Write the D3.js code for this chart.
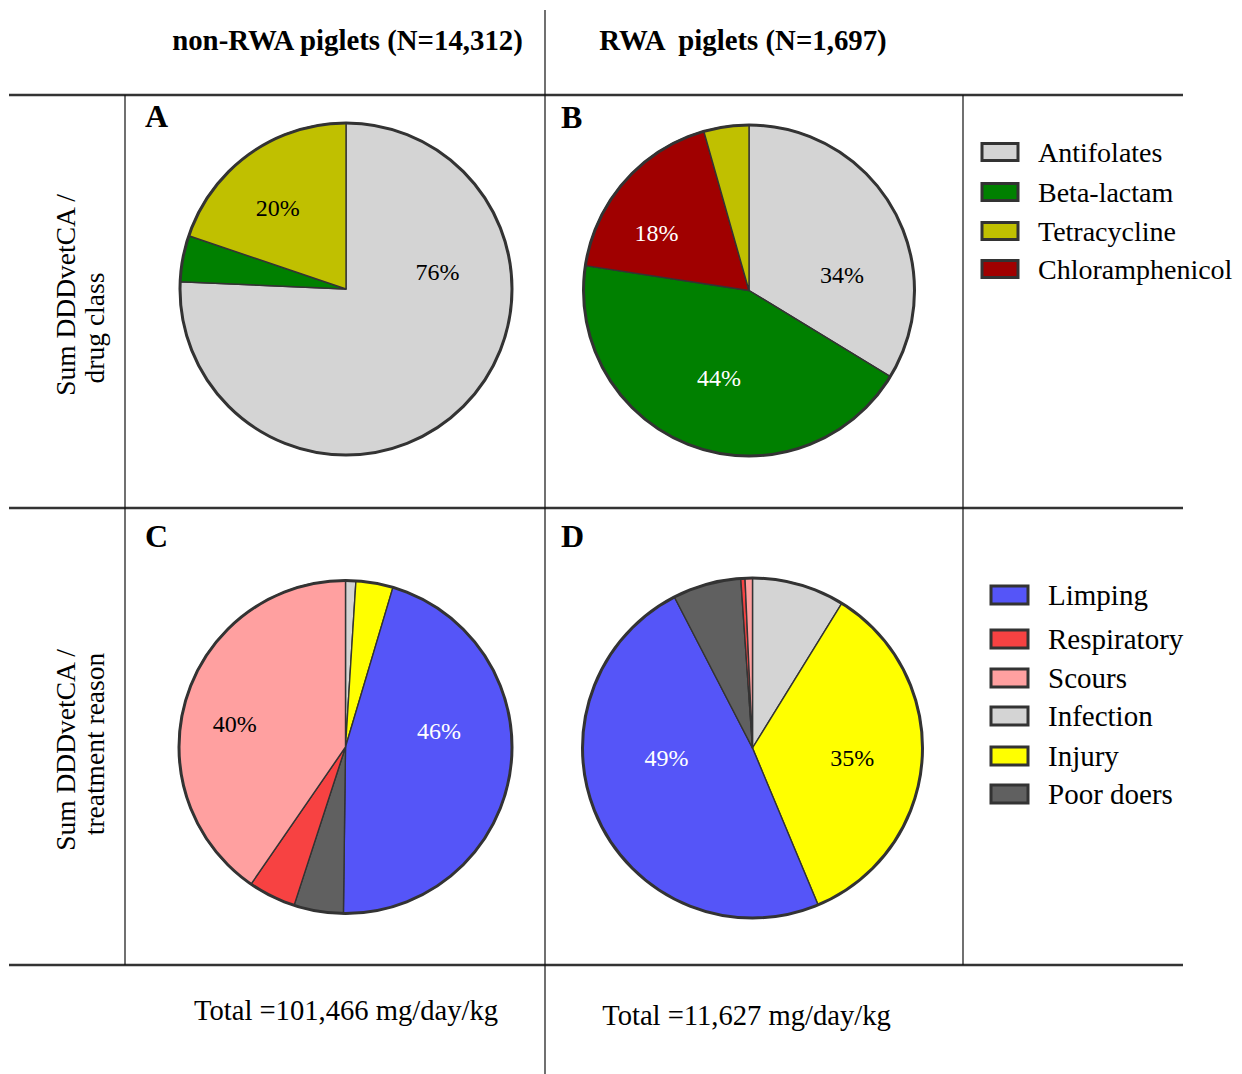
<!DOCTYPE html>
<html>
<head>
<meta charset="utf-8">
<script src="https://cdn.jsdelivr.net/npm/d3@7/dist/d3.min.js"></script>
<style>
  html, body { margin: 0; padding: 0; background: #fff; }
  svg { display: block; font-family: "Liberation Serif", "Times New Roman", serif; }
  text { white-space: pre; }
</style>
</head>
<body>
<svg id="chart" width="1242" height="1074"></svg>
<script>
// ---- data (percent of summed DDDvetCA) ----
const drugClasses   = ["Antifolates", "Beta-lactam", "Chloramphenicol", "Tetracycline"];
const drugNonRWA    = [75.7, 4.5, 0, 19.8];
const drugRWA       = [33.7, 43.7, 18.2, 4.4];

const reasons       = ["Infection", "Injury", "Limping", "Poor doers", "Respiratory", "Scours"];
const reasonNonRWA  = [1.0, 3.6, 45.6, 4.8, 4.6, 40.4];
const reasonRWA     = [8.8, 34.9, 48.7, 6.5, 0.4, 0.7];

const drugLegend    = ["Antifolates", "Beta-lactam", "Tetracycline", "Chloramphenicol"];
const reasonLegend  = ["Limping", "Respiratory", "Scours", "Infection", "Injury", "Poor doers"];

const columnTitles  = ["non-RWA piglets (N=14,312)", "RWA  piglets (N=1,697)"];
const columnTotals  = ["Total =101,466 mg/day/kg", "Total =11,627 mg/day/kg"];
const rowTitles     = [["Sum DDDvetCA /", "drug class"], ["Sum DDDvetCA /", "treatment reason"]];
const panelLetters  = ["A", "B", "C", "D"];

// ---- styling ----
const fills = {
  "Antifolates": "#d4d4d4", "Beta-lactam": "#008000", "Tetracycline": "#c0c000", "Chloramphenicol": "#a00000",
  "Limping": "#5555f8", "Respiratory": "#f74242", "Scours": "#ffa0a0", "Infection": "#d4d4d4",
  "Injury": "#ffff00", "Poor doers": "#606060"
};
const whiteText = new Set(["Beta-lactam", "Chloramphenicol", "Limping"]);
const edge = "#333";

const svg = d3.select("#chart");
svg.append("rect").attr("width", 1242).attr("height", 1074).attr("fill", "#fff");

// ---- table frame ----
const frame = svg.append("g");
[95, 508, 965].forEach(y => frame.append("line")
  .attr("x1", 9).attr("x2", 1183).attr("y1", y).attr("y2", y)
  .attr("stroke", edge).attr("stroke-width", 2.6));
frame.append("line").attr("x1", 545).attr("x2", 545).attr("y1", 10).attr("y2", 1074)
  .attr("stroke", "#111").attr("stroke-width", 1.2);
[125, 963].forEach(x => frame.append("line")
  .attr("x1", x).attr("x2", x).attr("y1", 95).attr("y2", 965)
  .attr("stroke", "#111").attr("stroke-width", 1.2));

// column headers and totals
const colCenters = [347.5, 743];
columnTitles.forEach((t, i) => svg.append("text")
  .attr("x", colCenters[i]).attr("y", 50).attr("text-anchor", "middle")
  .attr("font-size", 28.8).attr("font-weight", "bold").attr("fill", "#000").text(t));
const totalPos = [[346, 1020], [746.5, 1025]];
columnTotals.forEach((t, i) => svg.append("text")
  .attr("x", totalPos[i][0]).attr("y", totalPos[i][1]).attr("text-anchor", "middle")
  .attr("font-size", 28.6).attr("fill", "#000").text(t));

// row titles (rotated, two lines)
const rowTitleLayout = [
  { lines: [[75, 295], [104, 328]] },
  { lines: [[75, 750], [104, 744]] }
];
rowTitles.forEach((lines, r) => lines.forEach((t, k) => {
  const [x, y] = rowTitleLayout[r].lines[k];
  svg.append("text")
    .attr("transform", `translate(${x},${y}) rotate(-90)`)
    .attr("text-anchor", "middle").attr("font-size", 27.5).attr("fill", "#000").text(t);
}));

// ---- pies ----
const panels = [
  { cats: drugClasses, vals: drugNonRWA,  cx: 346,   cy: 289,   r: 166,
    labels: { "Antifolates": [79.5, 0.56], "Tetracycline": [320, 0.64] }, letter: [145, 127] },
  { cats: drugClasses, vals: drugRWA,     cx: 749,   cy: 290.5, r: 165.5,
    labels: { "Antifolates": [80.2, 0.57], "Beta-lactam": [199.1, 0.555], "Chloramphenicol": [302.1, 0.66] }, letter: [561, 128] },
  { cats: reasons,     vals: reasonNonRWA, cx: 345.5, cy: 747,   r: 166.5,
    labels: { "Scours": [281.9, 0.68], "Limping": [80.3, 0.57] }, letter: [145, 547] },
  { cats: reasons,     vals: reasonRWA,    cx: 752.5, cy: 748,   r: 170,
    labels: { "Limping": [263.4, 0.51], "Injury": [95.7, 0.59] }, letter: [561, 547] }
];

const pie = d3.pie().sort(null).value(d => d.v);

panels.forEach((p, i) => {
  const rows = p.cats.map((c, k) => ({ c, v: p.vals[k] }));
  const arcs = pie(rows).filter(a => a.data.v > 0);
  const arc = d3.arc().innerRadius(0).outerRadius(p.r);
  const g = svg.append("g").attr("transform", `translate(${p.cx},${p.cy})`);

  g.selectAll("path.slice").data(arcs).join("path")
    .attr("class", "slice")
    .attr("d", arc)
    .attr("fill", d => fills[d.data.c])
    .attr("stroke", edge).attr("stroke-width", 1.4).attr("stroke-linejoin", "round");

  g.append("circle").attr("r", p.r).attr("fill", "none")
    .attr("stroke", edge).attr("stroke-width", 3);

  // percentage labels on the large slices
  g.selectAll("text.pct").data(arcs.filter(a => a.data.v >= 10)).join("text")
    .attr("class", "pct")
    .attr("x", d => { const [a, f] = p.labels[d.data.c]; return Math.sin(a * Math.PI / 180) * f * p.r; })
    .attr("y", d => { const [a, f] = p.labels[d.data.c]; return -Math.cos(a * Math.PI / 180) * f * p.r; })
    .attr("dy", "0.35em").attr("text-anchor", "middle")
    .attr("font-size", 24)
    .attr("fill", d => whiteText.has(d.data.c) ? "#fff" : "#000")
    .text(d => Math.round(d.data.v) + "%");

  svg.append("text").attr("x", p.letter[0]).attr("y", p.letter[1])
    .attr("font-size", 32).attr("font-weight", "bold").attr("fill", "#000").text(panelLetters[i]);
});

// ---- legends ----
function legend(items, x0, rowsY, boxW, boxH, textX, fontSize) {
  const g = svg.append("g");
  items.forEach((name, k) => {
    g.append("rect").attr("x", x0).attr("y", rowsY[k] - boxH / 2)
      .attr("width", boxW).attr("height", boxH)
      .attr("fill", fills[name]).attr("stroke", edge).attr("stroke-width", 3);
    g.append("text").attr("x", textX).attr("y", rowsY[k]).attr("dy", "0.35em")
      .attr("font-size", fontSize).attr("fill", "#000").text(name);
  });
}
legend(drugLegend, 982, [152, 192, 231, 269], 36, 17, 1038, 28);
legend(reasonLegend, 991, [595, 639, 678, 716, 756, 794], 37, 18, 1048, 29);
</script>
</body>
</html>
